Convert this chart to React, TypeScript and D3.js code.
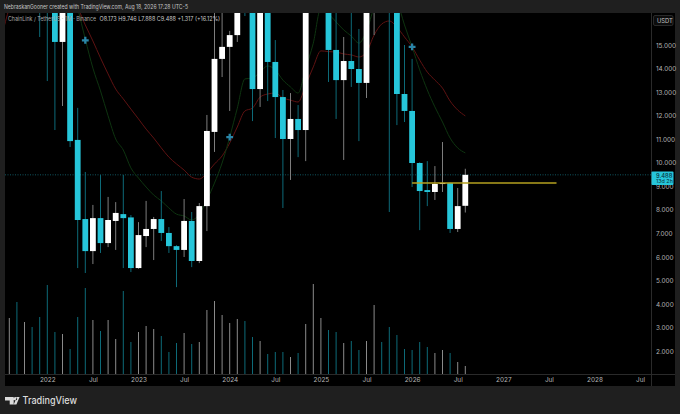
import React, { useEffect, useRef } from "react";
import * as d3 from "d3";

// monthly candles, first one is Aug 2021. values above ~16.3 are off the visible range and only guessed
const opens = [18.5, 25, 21, 30, 25, 19, 16.9, 15.13, 17, 10.97, 7.61, 6.25, 7.65, 6.59, 7.53, 7.82, 7.68, 5.53, 6.89, 7.19, 7.61, 7.02, 6.46, 6.3, 7.53, 5.83, 8.16, 11.31, 14.41, 14.92, 15.42, 17.5, 17, 13.13, 16.9, 14.28, 12.79, 11.01, 11.86, 11.39, 17.5, 21, 24, 14.79, 13.51, 14.32, 13.98, 13.39, 17, 21, 19, 17, 12.92, 12.2, 9.99, 8.84, 8.76, 9.1, 9.14, 7.19, 8.173];
const highs = [28.5, 29, 32, 38, 28, 23, 20, 18, 18.5, 12.33, 9.61, 8.21, 9.48, 8.55, 8.33, 9.48, 7.78, 7.48, 8.38, 7.7, 8.8, 7.27, 6.5, 8.46, 7.91, 8.29, 12.03, 16.9, 17.2, 15.6, 18.5, 20, 19, 18, 17.5, 15.21, 13.09, 12.96, 12.45, 19, 23, 25, 25, 17, 15.34, 17, 15.68, 18, 24, 23, 20, 18, 15, 14.41, 10.02, 10.07, 9.86, 10.88, 9.16, 8.93, 9.746];
const lows = [17.8, 19, 18.5, 23, 15.34, 13.47, 11.39, 12.41, 10.67, 5.53, 5.32, 5.7, 6.17, 6.42, 6.3, 5.53, 5.36, 5.5, 6.42, 5.87, 6.68, 6.17, 4.72, 6, 5.57, 5.74, 7.1, 10.46, 13.64, 12.2, 15.13, 16.23, 11.77, 12.37, 12.62, 11.05, 8.08, 9.27, 10.24, 10.07, 16.8, 19, 13.43, 11.86, 10.12, 13.22, 10.92, 12.75, 15.42, 17, 7.91, 11.6, 11.73, 8.97, 7.14, 8.16, 8.42, 8.76, 7.02, 7.06, 7.888];
const closes = [25, 21, 30, 25, 19, 16.9, 15.13, 17, 10.92, 7.57, 6.25, 7.65, 6.59, 7.57, 7.87, 7.65, 5.53, 6.93, 7.19, 7.61, 7.02, 6.46, 6.3, 7.53, 5.83, 8.16, 11.35, 14.41, 14.92, 15.42, 17.5, 17, 13.13, 16.9, 14.28, 12.79, 11.01, 11.86, 11.39, 17.5, 21, 24, 14.79, 13.51, 14.32, 13.98, 13.39, 17, 21, 19, 17, 12.92, 12.2, 9.99, 8.8, 8.76, 9.1, 9.14, 7.19, 8.16, 9.488];
// volume in arbitrary units, the picture has no volume axis
const volumes = [56, 72, 52, 47, 57, 89, 42, 40, 25, 57, 86, 54, 43, 54, 35, 83, 32, 42, 48, 45, 38, 22, 31, 41, 30, 32, 64, 73, 59, 51, 55, 53, 37, 33, 20, 22, 22, 17, 21, 50, 90, 56, 44, 42, 31, 33, 24, 33, 69, 32, 47, 39, 25, 24, 32, 27, 21, 24, 21, 12, 8];

// moving averages, redMA starts one month before the first candle
const redMA = [15.38, 16.57, 17.5, 18, 18.5, 18.8, 18.8, 18.5, 18, 17, 16.57, 15.85, 15.17, 14.45, 13.77, 13.13, 12.71, 12.28, 11.86, 11.43, 11.05, 10.63, 10.24, 9.95, 9.69, 9.39, 9.31, 9.57, 9.95, 10.29, 10.84, 11.52, 12.2, 12.32, 12.79, 12.92, 12.96, 12.75, 12.66, 12.58, 13.3, 14.07, 14.75, 14.72, 14.7, 14.62, 14.58, 14.49, 14.7, 15.42, 15.89, 16.02, 15.76, 15.34, 14.92, 14.36, 13.85, 13.51, 13.17, 12.62, 12.24, 11.99];
// greenMA starts at month index 9
const greenMA = [16.57, 15.25, 14.02, 13.05, 11.99, 11.01, 10.54, 9.78, 9.35, 8.97, 8.63, 8.38, 8.08, 7.82, 7.74, 7.57, 7.82, 8.42, 9.14, 9.99, 11.09, 12.32, 13.56, 13.6, 13.85, 14.11, 13.94, 13.51, 13.22, 12.96, 14.02, 15.08, 16.57, 16.32, 15.98, 15.64, 15.38, 15.08, 15.59, 16.57, 17, 17.5, 16.9, 15.85, 14.92, 13.94, 13.09, 12.37, 11.73, 11.05, 10.63, 10.42];

const crossMonths = [10, 29, 53];
const crossValues = [15.2, 11.09, 14.92];

const priceTicks = [2, 3, 4, 5, 6, 7, 8, 9, 10, 11, 12, 13, 14, 15];
const timeTickMonths = [5, 11, 17, 23, 29, 35, 41, 47, 53, 59, 65, 71, 77, 83];
const timeTickLabels = ["2022", "Jul", "2023", "Jul", "2024", "Jul", "2025", "Jul", "2026", "Jul", "2027", "Jul", "2028", "Jul"];

const levelPrice = 9.14;
const levelFrom = 53;
const levelTo = 72;
const lastPrice = 9.488;

const FONT = "Inter, Roboto, sans-serif";
const CYAN = "#26c6da";
const TEAL = "#0d6a78";
const GREY = "#7d7d7d";

export default function App() {
  const ref = useRef<SVGSVGElement | null>(null);

  useEffect(() => {
    if (!ref.current) return;
    const svg = d3.select(ref.current);
    svg.selectAll("*").remove();

    const width = 680;
    const height = 414;
    const plot = { left: 5, right: 651.5, top: 13, bottom: 374, outerRight: 675, outerBottom: 386 };

    const x = d3.scaleLinear().domain([0, 60]).range([9.3, 465.3]);
    const y = d3.scaleLinear().domain([15, 2]).range([45, 351.2]);
    const vol = d3.scaleLinear().domain([0, 90]).range([plot.bottom, 284]);

    svg.append("rect").attr("width", width).attr("height", height).attr("fill", "#1f1f1f");
    svg.append("rect")
      .attr("x", plot.left).attr("y", plot.top)
      .attr("width", plot.outerRight - plot.left).attr("height", plot.outerBottom - plot.top)
      .attr("fill", "#000");

    const defs = svg.append("defs");
    defs.append("clipPath").attr("id", "plot-clip").append("rect")
      .attr("x", plot.left).attr("y", plot.top)
      .attr("width", plot.right - plot.left).attr("height", plot.bottom - plot.top);

    // frame lines
    svg.append("line")
      .attr("x1", plot.right).attr("x2", plot.right).attr("y1", plot.top).attr("y2", plot.outerBottom)
      .attr("stroke", "#2a2a2a");
    svg.append("line")
      .attr("x1", plot.left).attr("x2", plot.outerRight).attr("y1", plot.bottom + 0.5).attr("y2", plot.bottom + 0.5)
      .attr("stroke", "#2a2a2a");

    const g = svg.append("g").attr("clip-path", "url(#plot-clip)");

    // last price dotted line
    g.append("line")
      .attr("x1", plot.left).attr("x2", plot.right)
      .attr("y1", y(lastPrice)).attr("y2", y(lastPrice))
      .attr("stroke", "#0f5560").attr("stroke-dasharray", "1 1.5");

    // volume
    g.selectAll(".vol").data(volumes).join("rect")
      .attr("x", (_, i) => x(i) - 0.5)
      .attr("width", 1)
      .attr("y", d => vol(d))
      .attr("height", d => plot.bottom - vol(d))
      .attr("fill", (_, i) => (closes[i] >= opens[i] ? "#8a8a8a" : TEAL));

    // moving averages
    const redLine = d3.line<number>().x((_, i) => x(i - 1)).y(d => y(d)).curve(d3.curveMonotoneX);
    const greenLine = d3.line<number>().x((_, i) => x(i + 9)).y(d => y(d)).curve(d3.curveMonotoneX);
    g.append("path").attr("d", redLine(redMA)).attr("fill", "none").attr("stroke", "#5e1212").attr("stroke-width", 1);
    g.append("path").attr("d", greenLine(greenMA)).attr("fill", "none").attr("stroke", "#0e3410").attr("stroke-width", 1);

    // wicks then bodies
    g.selectAll(".wick").data(opens).join("line")
      .attr("x1", (_, i) => x(i)).attr("x2", (_, i) => x(i))
      .attr("y1", (_, i) => y(highs[i])).attr("y2", (_, i) => y(lows[i]))
      .attr("stroke", (_, i) => (closes[i] >= opens[i] ? GREY : TEAL))
      .attr("stroke-width", 1);
    g.selectAll(".body").data(opens).join("rect")
      .attr("x", (_, i) => x(i) - 2.9)
      .attr("width", 5.8)
      .attr("y", (d, i) => y(Math.max(d, closes[i])))
      .attr("height", (d, i) => Math.max(1, Math.abs(y(d) - y(closes[i]))))
      .attr("fill", (_, i) => (closes[i] >= opens[i] ? "#fff" : CYAN));

    // yellow level
    g.append("line")
      .attr("x1", x(levelFrom)).attr("x2", x(levelTo))
      .attr("y1", y(levelPrice)).attr("y2", y(levelPrice))
      .attr("stroke", "#b5a01f").attr("stroke-width", 1.5);

    // cross markers
    const cross = d3.symbol().type(d3.symbolCross).size(26);
    g.selectAll(".cross").data(crossMonths).join("path")
      .attr("d", cross())
      .attr("transform", (d, i) => `translate(${x(d)},${y(crossValues[i])})`)
      .attr("fill", "#2a86a8");

    // price axis
    const yAxis = d3.axisRight(y).tickValues(priceTicks).tickSize(0).tickPadding(4.5).tickFormat(d => (+d).toFixed(3));
    const yG = svg.append("g").attr("transform", `translate(${plot.right},0)`).call(yAxis);
    yG.select(".domain").remove();
    yG.selectAll("text").attr("fill", "#b4b4b4").attr("font-size", 6.4).attr("font-family", FONT);

    // time axis
    const xAxis = d3.axisBottom(x).tickValues(timeTickMonths).tickSize(0).tickPadding(3)
      .tickFormat((_, i) => timeTickLabels[i]);
    const xG = svg.append("g").attr("transform", `translate(0,${plot.bottom})`).call(xAxis);
    xG.select(".domain").remove();
    xG.selectAll("text").attr("fill", "#b4b4b4").attr("font-size", 6.4).attr("font-family", FONT);

    const text = (str: string, tx: number, ty: number, size: number, fill: string, weight = 400, fit?: number) => {
      const t = svg.append("text").attr("x", tx).attr("y", ty).attr("font-size", size)
        .attr("font-family", FONT).attr("font-weight", weight).attr("fill", fill).text(str);
      // the source text is narrower than our fonts
      if (fit) t.attr("textLength", fit).attr("lengthAdjust", "spacingAndGlyphs");
      return t;
    };

    // price label
    svg.append("rect").attr("x", plot.right).attr("y", 171.6).attr("width", 22).attr("height", 13.4).attr("rx", 1).attr("fill", CYAN);
    text(lastPrice.toFixed(3), 656, 177.6, 5.8, "#06323a", 500);
    text("13d 2h", 656, 183.4, 5.4, "#06323a");

    // USDT box
    svg.append("rect").attr("x", 653.5).attr("y", 15.5).attr("width", 19.5).attr("height", 10).attr("rx", 1.5)
      .attr("fill", "#0c0c0c").attr("stroke", "#3a3a3a").attr("stroke-width", 0.7);
    text("USDT", 657, 22.8, 5.8, "#c4c4c4");

    // header and legend
    text("NebraskanGooner created with TradingView.com, Aug 18, 2026 17:28 UTC-5", 4, 9, 5.8, "#c8c8c8", 400, 184);
    text("ChainLink / TetherUS · 1M · Binance", 8, 21.2, 5.8, "#a8a8a8", 400, 88);
    text("O8.173 H9.746 L7.888 C9.488 +1.317 (+16.12%)", 99.5, 21.2, 5.8, "#c8c8c8", 400, 120.5);

    // logo
    svg.append("path")
      .attr("d", "M5 397h8.7v7.6h-4v-4H5z M15.4 400.6a1.8 1.8 0 1 0 0-3.6 1.8 1.8 0 0 0 0 3.6z M17 397h2.6l-3.2 7.6h-2.7z")
      .attr("fill", "#dcdcdc");
    text("TradingView", 22.5, 404, 10, "#dcdcdc", 500, 54.5);
  }, []);

  return <svg ref={ref} width={680} height={414} style={{ position: "absolute", left: 0, top: 0, display: "block" }} />;
}
